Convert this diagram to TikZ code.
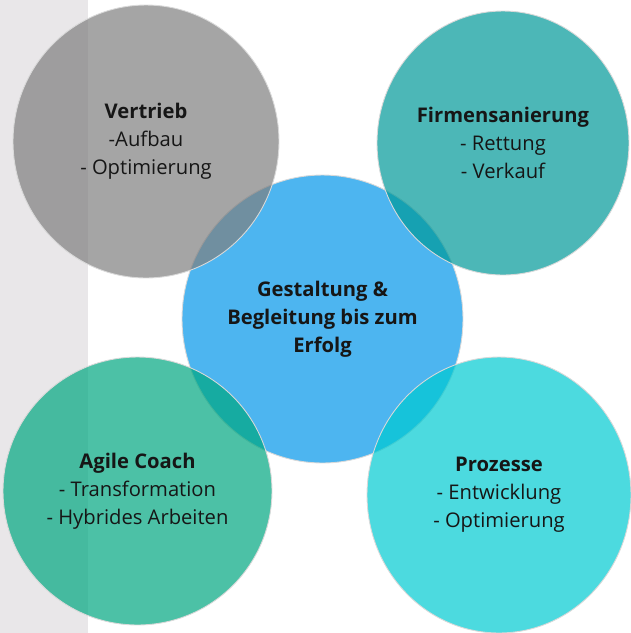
\documentclass[tikz,border=0pt]{standalone}
\usepackage{fontspec}
\setmainfont{Open Sans}
\usepackage{tikz}
\usetikzlibrary{shapes.geometric}

\definecolor{stripgrey}{HTML}{E9E7E9}
\definecolor{midblue}{HTML}{4DB5F0}
\definecolor{salesgrey}{HTML}{7F7F7F}
\definecolor{rescueteal}{HTML}{009999}
\definecolor{agilegreen}{HTML}{00A780}
\definecolor{processcyan}{HTML}{00CAD1}
\definecolor{inkdark}{HTML}{161616}

\tikzset{
  bubble/.style={ellipse, draw=white!85!black, line width=0.5pt, fill opacity=0.7,
    draw opacity=1, text opacity=1, text=inkdark, align=center, inner sep=0pt,
    font=\fontsize{11.5}{15.9}\selectfont},
}

\begin{document}
\begin{tikzpicture}[x=0.02cm, y=-0.02cm]
   \useasboundingbox (0,0) rectangle (631,633);
   \fill[stripgrey] (0,0) rectangle (88,633);

   % center
   \node[bubble, fill=midblue, fill opacity=1, minimum width=5.62cm, minimum height=5.76cm]
      (goal) at (322.5,319) {\textbf{Gestaltung \&}\\\textbf{Begleitung bis zum}\\\textbf{Erfolg}};

   % outer ones
   \node[bubble, fill=salesgrey, minimum width=5.32cm, minimum height=5.46cm]
      (sales) at (146,141.5) {\textbf{Vertrieb}\\-Aufbau\\- Optimierung};
   \node[bubble, fill=rescueteal, minimum width=5.04cm, minimum height=5.28cm]
      (rescue) at (503,143) {\textbf{Firmensanierung}\\- Rettung\\- Verkauf};
   \node[bubble, fill=agilegreen, minimum width=5.38cm, minimum height=5.36cm]
      (agile) at (137.5,491) {\textbf{Agile Coach}\\- Transformation\\- Hybrides Arbeiten};
   \node[bubble, fill=processcyan, minimum width=5.28cm, minimum height=5.52cm]
      (process) at (499,495) {\textbf{Prozesse}\\- Entwicklung\\- Optimierung};
\end{tikzpicture}
\end{document}
